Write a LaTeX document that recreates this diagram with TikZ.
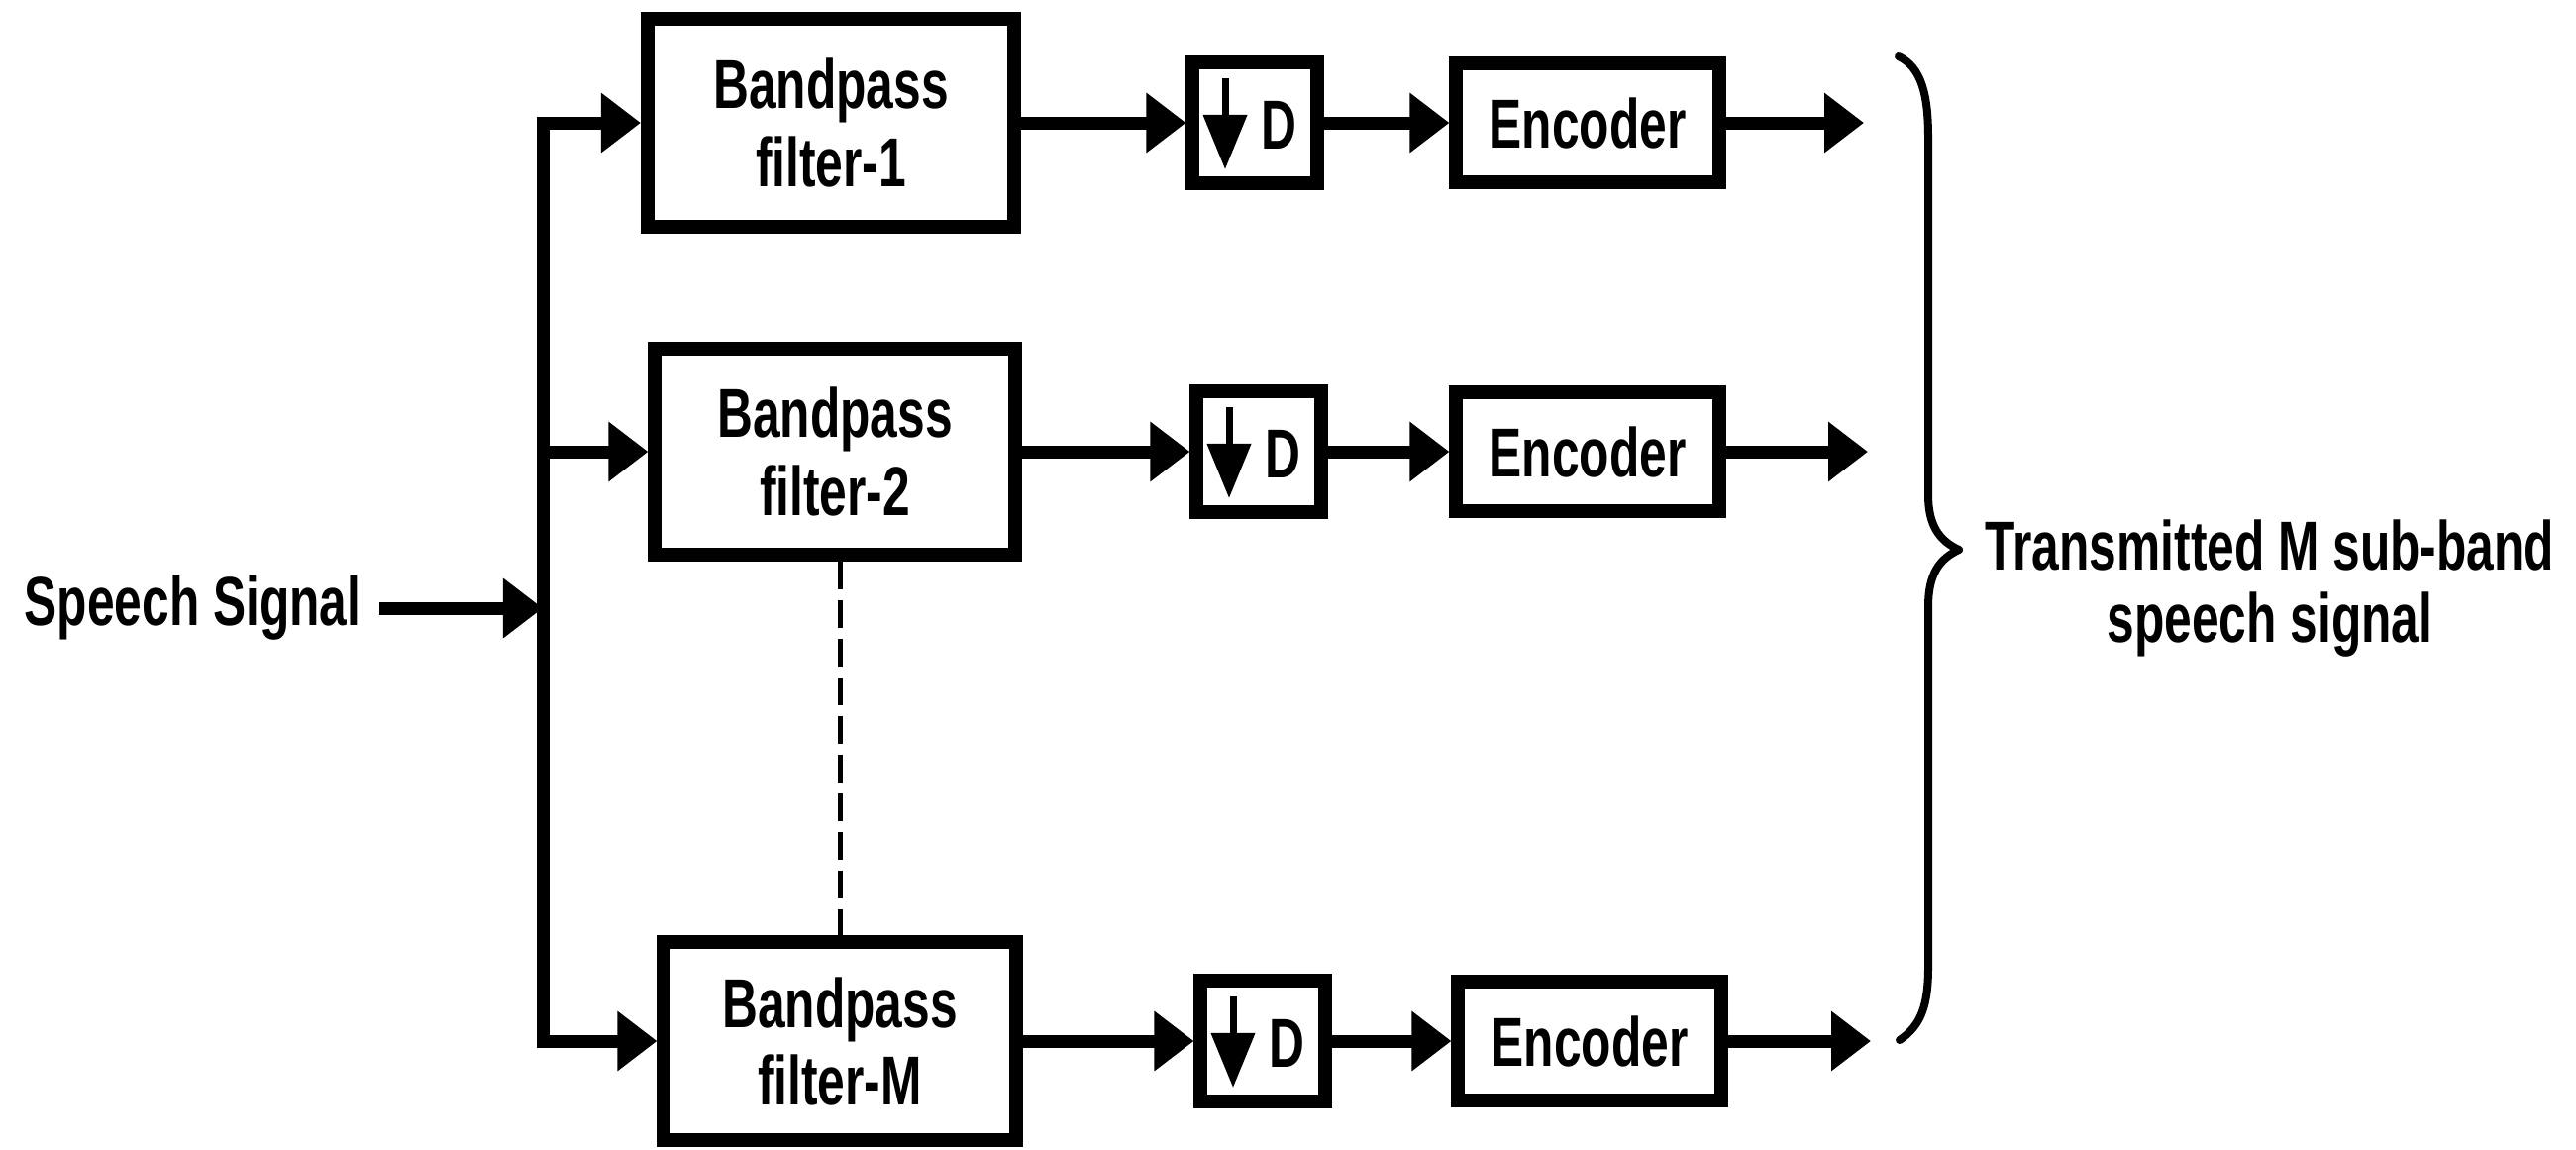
\documentclass[tikz,border=0pt]{standalone}
\usepackage{fontspec}
\setmainfont{Liberation Sans}[FakeStretch=0.71]
\usetikzlibrary{arrows.meta,calc}
\begin{document}
\begin{tikzpicture}[x=0.01cm,y=-0.01cm,
  txt/.style={font=\bfseries\fontsize{19.9pt}{22.2pt}\selectfont, inner sep=0pt, align=center},
  blk/.style={draw, line width=0.14cm, inner sep=0pt, align=center, font=\bfseries\fontsize{19.9pt}{22.2pt}\selectfont},
  bpf/.style={blk, minimum width=3.66cm, minimum height=2.08cm},
  dbox/.style={blk, minimum width=1.25cm, minimum height=1.21cm},
  encbox/.style={blk, minimum width=2.65cm, minimum height=1.19cm},
  wire/.style={line width=0.13cm},
  arr/.style={line width=0.13cm, -{Triangle[length=0.40cm,width=0.58cm]}},
  darr/.style={line width=0.07cm, -{Triangle[length=0.55cm,width=0.43cm]}},
  dashline/.style={line width=0.05cm, dash pattern=on 0.28cm off 0.11cm},
  bracestyle/.style={line width=0.08cm, line cap=round, line join=round}
]
\useasboundingbox (0,0) rectangle (2601,1160);

% bandpass filters
\node[bpf, minimum width=3.70cm, minimum height=2.10cm] (bpf1) at (839,124) {Bandpass\\filter-1};
\node[bpf, minimum width=3.63cm, minimum height=2.08cm] (bpf2) at (843,456) {Bandpass\\filter-2};
\node[bpf, minimum width=3.55cm, minimum height=1.99cm] (bpf3) at (848,1051) {Bandpass\\filter-M};

% decimators
\node[dbox] (d1) at (1267,124) {};
\node[dbox] (d2) at (1271,456) {};
\node[dbox] (d3) at (1275,1051) {};
\foreach \n in {d1,d2,d3}{
  \draw[darr] ($(\n.center)+(-30,-45)$) -- ($(\n.center)+(-30,47)$);
  \node[txt] at ($(\n.center)+(24,2)$) {D};
}

% encoders
\node[encbox] (e1) at (1603,124) {Encoder};
\node[encbox] (e2) at (1603,456) {Encoder};
\node[encbox] (e3) at (1605,1051) {Encoder};

% outputs
\coordinate (o1) at (1882,124);
\coordinate (o2) at (1886,456);
\coordinate (o3) at (1889,1051);

% input
\node[txt, anchor=east] (sp) at (365,614) {Speech Signal};
\coordinate (j1) at (548,124);
\coordinate (j2) at (548,456);
\coordinate (jin) at (548,614);
\coordinate (j3) at (548,1051);

\draw[wire, line cap=rect] (j1) -- (j3);
\draw[arr] ([xshift=0.18cm]sp.east) -- (jin);
\draw[arr] (j1) -- (bpf1.west);
\draw[arr] (j2) -- (bpf2.west);
\draw[arr] (j3) -- (bpf3.west);

\draw[arr] (bpf1.east) -- (d1.west);
\draw[arr] (bpf2.east) -- (d2.west);
\draw[arr] (bpf3.east) -- (d3.west);

\draw[arr] (d1.east) -- (e1.west);
\draw[arr] (d2.east) -- (e2.west);
\draw[arr] (d3.east) -- (e3.west);

\draw[arr] (e1.east) -- (o1);
\draw[arr] (e2.east) -- (o2);
\draw[arr] (e3.east) -- (o3);

% dashed continuation
\draw[dashline] (bpf2.south -| bpf3.north) -- (bpf3.north);

% brace
\draw[bracestyle] (1917,57) .. controls (1940,68) and (1947,95) .. (1947,140)
  -- (1947,500) .. controls (1947,530) and (1958,546) .. (1978,555)
  .. controls (1958,564) and (1947,580) .. (1947,612)
  -- (1947,975) .. controls (1947,1015) and (1940,1035) .. (1918,1050);

\node[txt, font=\bfseries\fontsize{19.9pt}{20.5pt}\selectfont] (lab) at (2292,594) {Transmitted M sub-band\\speech signal};
\end{tikzpicture}
\end{document}
